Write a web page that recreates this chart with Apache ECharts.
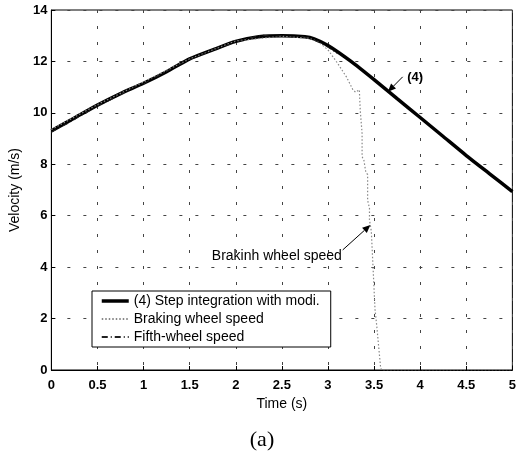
<!DOCTYPE html>
<html>
<head>
<meta charset="utf-8">
<script src="https://cdn.jsdelivr.net/npm/echarts@6/dist/echarts.min.js"></script>
<style>
html,body{margin:0;padding:0;background:#fff;}
#c{width:519px;height:456px;}
</style>
</head>
<body>
<div id="c"></div>
<script>
// ---- data ----
var stepTime = [0, 0.25, 0.5, 0.75, 1.0, 1.25, 1.5, 1.75, 2.0, 2.25, 2.5, 2.75, 2.85, 3.0, 3.25, 3.5, 3.75, 4.0, 4.25, 4.5, 4.75, 5.0];
var stepVel  = [9.3, 9.8, 10.3, 10.75, 11.15, 11.6, 12.1, 12.45, 12.78, 12.96, 13.0, 12.96, 12.88, 12.62, 12.0, 11.29, 10.55, 9.82, 9.08, 8.34, 7.64, 6.94];

var brakeTime = [0, 0.5, 1.0, 1.5, 2.0, 2.5, 2.8, 2.9, 3.0, 3.1, 3.2, 3.27, 3.3, 3.34, 3.35, 3.37, 3.37, 3.39, 3.41, 3.43, 3.43, 3.45, 3.45, 3.47, 3.49, 3.51, 3.53, 3.55, 3.57, 3.58, 5.0];
var brakeVel  = [9.35, 10.32, 11.2, 12.1, 12.8, 12.98, 12.9, 12.75, 12.45, 11.95, 11.4, 10.9, 10.8, 10.9, 10.1, 9.2, 8.3, 8.15, 7.7, 7.6, 6.6, 6.3, 5.84, 5.4, 3.9, 2.36, 1.68, 0.9, 0.13, 0, 0];

var fifthTime = [0, 0.1, 0.2, 0.3, 0.4, 0.5, 0.6, 0.7, 0.8, 0.9, 1.0, 1.1, 1.2, 1.3, 1.4, 1.5, 1.6, 1.7, 1.8, 1.9, 2.0, 2.1, 2.2, 2.3, 2.4, 2.5, 2.6, 2.7, 2.8, 2.9, 3.0, 3.1];
var fifthVel  = [9.25, 9.45, 9.62, 9.85, 10.05, 10.28, 10.42, 10.62, 10.8, 11.0, 11.12, 11.35, 11.5, 11.72, 11.9, 12.08, 12.2, 12.38, 12.5, 12.62, 12.75, 12.88, 12.95, 13.02, 12.96, 13.0, 12.95, 12.98, 12.9, 12.75, 12.55, 12.3];

var xTicks = [0, 0.5, 1, 1.5, 2, 2.5, 3, 3.5, 4, 4.5, 5];
var yTicks = [0, 2, 4, 6, 8, 10, 12, 14];

var seriesNames = ['(4) Step integration with modi.', 'Braking wheel speed', 'Fifth-wheel speed'];
var xTitle = 'Time (s)';
var yTitle = 'Velocity (m/s)';
var caption = '(a)';
var note4 = '(4)';
var noteBrake = 'Brakinh wheel speed';

function pairs(t, v){ return t.map(function(x,i){ return [x, v[i]]; }); }

var chart = echarts.init(document.getElementById('c'), null, {renderer:'canvas'});
var font = 'Liberation Sans, Arial, sans-serif';
var gridLine = {show:true, lineStyle:{color:'#444', width:1, type:[3,13]}};

chart.setOption({
  animation:false,
  backgroundColor:'#fff',
  grid:{left:46, right:5, top:10, bottom:86, show:true, borderColor:'#000', borderWidth:1},
  xAxis:{
    type:'value', min:xTicks[0], max:xTicks[xTicks.length-1], interval:0.5,
    name:xTitle, nameLocation:'middle', nameGap:26,
    nameTextStyle:{fontFamily:font, fontSize:14, color:'#000'},
    axisLine:{show:true, onZero:false, lineStyle:{color:'#000'}},
    axisTick:{show:true, inside:true, length:4, lineStyle:{color:'#000'}},
    axisLabel:{fontFamily:font, fontSize:13, fontWeight:'bold', color:'#000', margin:9},
    splitLine:gridLine
  },
  yAxis:{
    type:'value', min:yTicks[0], max:yTicks[yTicks.length-1], interval:2,
    name:yTitle, nameLocation:'middle', nameGap:28, nameRotate:90,
    nameTextStyle:{fontFamily:font, fontSize:14, color:'#000'},
    axisLine:{show:true, lineStyle:{color:'#000'}},
    axisTick:{show:true, inside:true, length:4, lineStyle:{color:'#000'}},
    axisLabel:{fontFamily:font, fontSize:13, fontWeight:'bold', color:'#000', margin:4},
    splitLine:gridLine
  },
  legend:{
    orient:'vertical', left:92, top:291,
    backgroundColor:'#fff', borderColor:'#000', borderWidth:1,
    padding:[3,11,3,8], itemGap:4, itemWidth:27, itemHeight:14,
    itemStyle:{opacity:0},
    textStyle:{fontFamily:font, fontSize:14, color:'#000'},
    data:seriesNames.map(function(n,i){ return i === 0 ? {name:n, lineStyle:{width:3.5}} : {name:n}; })
  },
  series:[
    {name:seriesNames[1], type:'line', data:pairs(brakeTime, brakeVel), showSymbol:false, symbol:'none',
     lineStyle:{color:'#888', width:1.2, type:[1.5,2]}, z:3},
    {name:seriesNames[2], type:'line', data:pairs(fifthTime, fifthVel), showSymbol:false, symbol:'none',
     lineStyle:{color:'#222', width:1, type:[6,3,1,3]}, z:4},
    {name:seriesNames[0], type:'line', data:pairs(stepTime, stepVel), showSymbol:false, symbol:'none', smooth:0.2,
     lineStyle:{color:'#000', width:3.5}, z:2}
  ]
});

// annotations placed through the axes
function px(x,y){ return chart.convertToPixel({gridIndex:0}, [x,y]); }
var a1 = px(3.81, 11.4), a2 = px(3.65, 10.82), t1 = px(3.86, 11.36);
var b1 = px(3.16, 4.67), b2 = px(3.46, 5.64), t2 = px(3.15, 4.44);
var cap = [262, 440];

function arrow(p, q){
  var ang = Math.atan2(q[1]-p[1], q[0]-p[0]);
  var L = 8, W = 3.5;
  var bx = q[0]-L*Math.cos(ang), by = q[1]-L*Math.sin(ang);
  var nx = -Math.sin(ang), ny = Math.cos(ang);
  return [
    {type:'line', shape:{x1:p[0], y1:p[1], x2:bx, y2:by}, style:{stroke:'#000', lineWidth:1}, z:10},
    {type:'polygon', shape:{points:[[q[0],q[1]],[bx+nx*W,by+ny*W],[bx-nx*W,by-ny*W]]}, style:{fill:'#000'}, z:10}
  ];
}

chart.setOption({
  graphic:[].concat(
    arrow(a1,a2), arrow(b1,b2),
    [
      {type:'text', x:t1[0], y:t1[1], style:{text:note4, font:'bold 13px Liberation Sans, Arial', fill:'#000', textAlign:'left', textVerticalAlign:'middle'}, z:10},
      {type:'text', x:t2[0], y:t2[1], style:{text:noteBrake, font:'14px Liberation Sans, Arial', fill:'#000', textAlign:'right', textVerticalAlign:'middle'}, z:10},
      {type:'text', x:cap[0], y:cap[1], style:{text:caption, font:'22px Liberation Serif, Times New Roman, serif', fill:'#000', textAlign:'center', textVerticalAlign:'middle'}, z:10}
    ]
  )
});
</script>
</body>
</html>
